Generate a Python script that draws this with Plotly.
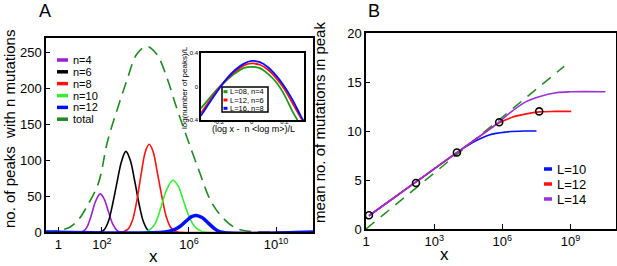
import numpy as np
import plotly.graph_objects as go

# ---------------- Panel A data (x given as log10 x) ----------------
n4_logx = [-0.6, 1.0, 1.15, 1.3, 1.5, 1.7, 1.92, 2.1, 2.3, 2.5, 2.7, 2.85, 11.7]
n4_y    = [0, 0, 1, 6, 22, 42, 53, 46, 28, 11, 2, 0, 0]

n6_logx = [-0.6, 1.9, 2.1, 2.3, 2.5, 2.7, 2.9, 3.1, 3.3, 3.5, 3.7, 3.9, 4.1, 4.25, 11.7]
n6_y    = [0, 0, 3, 15, 40, 70, 98, 112, 100, 72, 40, 15, 3, 0, 0]

n8_logx = [-0.6, 2.95, 3.2, 3.4, 3.6, 3.8, 4.0, 4.17, 4.35, 4.55, 4.75, 4.95, 5.15, 5.35, 5.5, 11.7]
n8_y    = [0, 0, 4, 16, 43, 80, 112, 122, 112, 82, 50, 22, 7, 1, 0, 0]

n10_logx = [-0.6, 3.95, 4.2, 4.45, 4.7, 4.95, 5.26, 5.5, 5.75, 6.0, 6.25, 6.5, 6.7, 11.7]
n10_y    = [0, 0, 3, 12, 33, 57, 72, 64, 43, 22, 8, 2, 0, 0]

n12_logx = [-0.6, 4.9, 5.3, 5.6, 5.9, 6.1, 6.33, 6.6, 6.9, 7.2, 7.45, 11.7]
n12_y    = [0, 0, 3, 8, 16, 21, 23, 20, 12, 4, 0, 0]

total_logx = [-0.6, 0.0, 0.54, 0.92, 1.3, 1.84, 2.25, 2.7, 3.14, 3.6, 4.06, 4.52, 4.98,
              5.44, 5.9, 6.5, 6.97, 7.43, 8.05, 8.5, 9.0, 11.7]
total_y    = [0.5, 2, 7, 17, 35, 68, 125, 170, 210, 247, 258, 247, 215,
              172, 132, 82, 45, 24, 7, 2, 0.5, 0]

a_xtick_vals = [1, 1e2, 1e6, 1e10]
a_xtick_text = ["1", "10<sup>2</sup>", "10<sup>6</sup>", "10<sup>10</sup>"]
a_ytick_vals = [0, 50, 100, 150, 200, 250]

# ---------------- Inset data ----------------
inset_x_L08 = [-0.31, -0.25, -0.2, -0.15, -0.1, -0.05, 0.0, 0.05, 0.1, 0.15, 0.2, 0.25, 0.28]
inset_L08   = [-0.26, -0.12, -0.01, 0.08, 0.16, 0.22, 0.235, 0.22, 0.15, 0.05, -0.1, -0.3, -0.4]
inset_x     = [-0.31, -0.25, -0.2, -0.15, -0.1, -0.05, 0.0, 0.05, 0.1, 0.15, 0.2, 0.25, 0.3, 0.32]
inset_L12   = [-0.32, -0.15, -0.02, 0.09, 0.18, 0.25, 0.275, 0.26, 0.2, 0.1, -0.03, -0.2, -0.37, -0.43]
inset_L16   = [-0.35, -0.17, -0.03, 0.1, 0.2, 0.27, 0.305, 0.29, 0.23, 0.13, 0.0, -0.16, -0.35, -0.42]

# ---------------- Panel B data (x given as log10 x) ----------------
L10_logx = [0.13, 2.2, 4.0, 4.67, 5.42, 6.17, 7.0, 7.5]
L10_y    = [1.35, 4.8, 7.8, 8.8, 9.6, 9.9, 10.0, 10.0]

L12_logx = [0.13, 2.2, 4.0, 5.0, 5.8, 6.43, 7.05, 7.62, 8.3, 9.03]
L12_y    = [1.35, 4.8, 7.8, 9.45, 10.75, 11.4, 11.75, 11.95, 12.0, 12.0]

L14_logx = [0.13, 2.2, 4.0, 5.0, 5.8, 6.3, 7.05, 7.62, 8.37, 9.0, 10.53]
L14_y    = [1.35, 4.8, 7.8, 9.45, 10.8, 11.8, 13.0, 13.5, 13.9, 14.0, 14.0]

circ_logx = [0.13, 2.2, 4.0, 5.86, 7.62]
circ_y    = [1.4, 4.7, 7.8, 10.9, 12.0]

diag_logx = [0.0, 8.72]
diag_y    = [0.0, 16.6]

b_xtick_vals = [1, 1e3, 1e6, 1e9]
b_xtick_text = ["1", "10<sup>3</sup>", "10<sup>6</sup>", "10<sup>9</sup>"]
b_ytick_vals = [0, 5, 10, 15, 20]

# ---------------- colours ----------------
PURPLE = "#9a1fd0"
BLACK = "#000000"
RED = "#ff1010"
LGREEN = "#33ee33"
BLUE = "#0010ff"
DGREEN = "#1f8a1f"
IGREEN = "#1a9a1a"
BPURPLE = "#9b30d9"
FONT = "Liberation Sans, Arial, sans-serif"

def px(logs):
    return [10 ** v for v in logs]

fig = go.Figure()

# Panel A traces
fig.add_trace(go.Scatter(x=px(total_logx), y=total_y, mode="lines", line_shape="spline",
                         line=dict(color=DGREEN, width=1.6, dash="12px,7px"), name="total",
                         xaxis="x", yaxis="y"))
for lx, yy, col, w, nm in [(n4_logx, n4_y, PURPLE, 1.6, "n=4"),
                           (n6_logx, n6_y, BLACK, 1.6, "n=6"),
                           (n8_logx, n8_y, RED, 1.6, "n=8"),
                           (n10_logx, n10_y, LGREEN, 1.6, "n=10"),
                           (n12_logx, n12_y, BLUE, 3.5, "n=12")]:
    fig.add_trace(go.Scatter(x=px(lx), y=yy, mode="lines", line_shape="spline",
                             line=dict(color=col, width=w), name=nm, xaxis="x", yaxis="y"))

# Inset traces
fig.add_trace(go.Scatter(x=inset_x_L08, y=inset_L08, mode="lines", line_shape="spline",
                         line=dict(color=IGREEN, width=1.8), name="L=08, n=4", xaxis="x3", yaxis="y3"))
fig.add_trace(go.Scatter(x=inset_x, y=inset_L12, mode="lines", line_shape="spline",
                         line=dict(color=RED, width=1.8), name="L=12, n=6", xaxis="x3", yaxis="y3"))
fig.add_trace(go.Scatter(x=inset_x, y=inset_L16, mode="lines", line_shape="spline",
                         line=dict(color=BLUE, width=1.8), name="L=16, n=8", xaxis="x3", yaxis="y3"))

# Panel B traces
fig.add_trace(go.Scatter(x=px(diag_logx), y=diag_y, mode="lines",
                         line=dict(color=DGREEN, width=1.5, dash="11px,8px"), xaxis="x2", yaxis="y2"))
fig.add_trace(go.Scatter(x=px(L10_logx), y=L10_y, mode="lines", line_shape="spline",
                         line=dict(color=BLUE, width=1.6), name="L=10", xaxis="x2", yaxis="y2"))
fig.add_trace(go.Scatter(x=px(L12_logx), y=L12_y, mode="lines", line_shape="spline",
                         line=dict(color=RED, width=1.6), name="L=12", xaxis="x2", yaxis="y2"))
fig.add_trace(go.Scatter(x=px(L14_logx), y=L14_y, mode="lines", line_shape="spline",
                         line=dict(color=BPURPLE, width=1.6), name="L=14", xaxis="x2", yaxis="y2"))
fig.add_trace(go.Scatter(x=px(circ_logx), y=circ_y, mode="markers",
                         marker=dict(symbol="circle-open", size=7, color=BLACK, line=dict(width=1.6)),
                         xaxis="x2", yaxis="y2"))

W, H = 617, 266
def fx(p):
    return p / W
def fy(p):
    return 1 - p / H

axis_common = dict(showgrid=False, zeroline=False, showline=True, mirror=True, automargin=False,
                   linecolor="black", linewidth=1.5, ticks="inside", tickcolor="black",
                   tickfont=dict(family=FONT, size=13, color="black"))
inset_common = dict(showgrid=False, zeroline=False, showline=True, mirror=True, automargin=False,
                    linecolor="black", linewidth=1.5, ticks="",
                    tickfont=dict(family=FONT, size=6, color="black"))

fig.update_layout(
    width=W, height=H, margin=dict(l=0, r=0, t=0, b=0, autoexpand=False),
    paper_bgcolor="white", plot_bgcolor="white", showlegend=False,
    font=dict(family=FONT, color="black"),
    xaxis=dict(axis_common, domain=[fx(46), fx(313)], anchor="y", type="log",
               range=[-0.57, 11.7], tickvals=a_xtick_vals, ticktext=a_xtick_text, ticklen=5),
    yaxis=dict(axis_common, domain=[fy(232), fy(37.7)], anchor="x", range=[0, 270],
               tickvals=a_ytick_vals, ticklen=4),
    xaxis2=dict(axis_common, domain=[fx(366), fx(616)], anchor="y2", type="log",
                range=[0, 11], tickvals=b_xtick_vals, ticktext=b_xtick_text, ticklen=5),
    yaxis2=dict(axis_common, domain=[fy(229), fy(33)], anchor="x2", range=[0, 20],
                tickvals=b_ytick_vals, ticklen=4),
    xaxis3=dict(inset_common, domain=[fx(201), fx(304)], anchor="y3", ticklabelstandoff=-5,
                range=[-0.31, 0.32], tickvals=[-0.2, 0, 0.2], ticktext=["-0.2", "0", "0.2"]),
    yaxis3=dict(inset_common, domain=[fy(120), fy(53)], anchor="x3",
                range=[-0.4, 0.4], tickvals=[-0.4, 0, 0.4], ticktext=["-0.4", "0", "0.4"]),
)

def note(text, x, y, size, angle=0, xanchor="center"):
    fig.add_annotation(text=text, x=fx(x), y=fy(y), xref="paper", yref="paper", showarrow=False,
                       textangle=angle, xanchor=xanchor, yanchor="middle",
                       font=dict(size=size, family=FONT, color="black"))

# Axis titles
note("no. of peaks  with n mutations", 9, 129, 15, -90)
note("x", 153, 256, 17)
note("mean no. of mutations in peak", 320, 123, 15, -90)
note("x", 444, 254, 17)
note("log(number of peaks)/L", 184, 88, 8, -90)
note("(log x -  n &lt;log m&gt;)/L", 253, 129, 9)

# Panel labels
note("A", 45, 11, 18)
note("B", 374, 11, 18)

# Legend for panel A (drawn manually for compact spacing)
legA = [("n=4", PURPLE), ("n=6", BLACK), ("n=8", RED),
        ("n=10", LGREEN), ("n=12", BLUE), ("total", DGREEN)]
rowsA = [60.0, 71.8, 83.6, 95.6, 107.4, 119.2]
for (lab, col), ry in zip(legA, rowsA):
    fig.add_shape(type="line", xref="paper", yref="paper", x0=fx(57), x1=fx(68), y0=fy(ry), y1=fy(ry),
                  line=dict(color=col, width=3.5))
    note(lab, 71, ry, 11, xanchor="left")

# Legend for panel B
legB = [("L=10", BLUE), ("L=12", RED), ("L=14", BPURPLE)]
rowsB = [169, 184, 199]
for (lab, col), ry in zip(legB, rowsB):
    fig.add_shape(type="line", xref="paper", yref="paper", x0=fx(544), x1=fx(552), y0=fy(ry), y1=fy(ry),
                  line=dict(color=col, width=3.5))
    note(lab, 555, ry, 13, xanchor="left")

# Inset legend
fig.add_shape(type="rect", xref="paper", yref="paper", x0=fx(222), x1=fx(268), y0=fy(112), y1=fy(87),
              line=dict(color="black", width=1.5), fillcolor="white")
legI = [("L=08, n=4", IGREEN), ("L=12, n=6", RED), ("L=16, n=8", BLUE)]
rowsI = [91.7, 100, 108.3]
for (lab, col), ry in zip(legI, rowsI):
    fig.add_shape(type="line", xref="paper", yref="paper", x0=fx(223.5), x1=fx(227.5), y0=fy(ry), y1=fy(ry),
                  line=dict(color=col, width=3))
    note(lab, 228, ry, 7.5, xanchor="left")

fig.write_html("out.html", config={"displayModeBar": False},
               post_script="document.body.style.margin='0';")
